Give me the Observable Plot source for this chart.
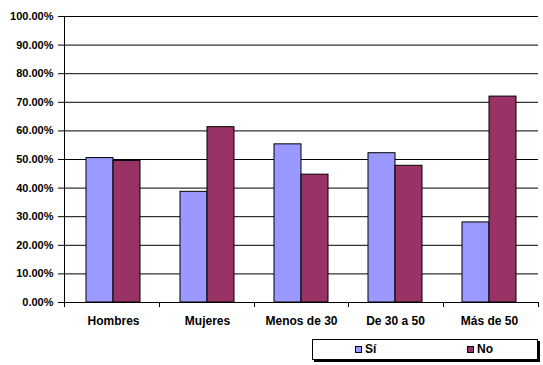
<!DOCTYPE html>
<html>
<head>
<meta charset="utf-8">
<script src="https://cdn.jsdelivr.net/npm/d3@7"></script>
<script src="https://cdn.jsdelivr.net/npm/@observablehq/plot@0.6"></script>
<style>
  html, body { margin: 0; padding: 0; background: #fff; }
  body { width: 543px; height: 365px; position: relative; overflow: hidden; font-family: "Liberation Sans", Arial, sans-serif; }
  #legend { position: absolute; left: 312px; top: 339px; width: 224px; height: 19px; border: 1px solid #000; background: #fff; box-shadow: 2px 2px 0 #000; font-weight: bold; font-size: 12px; }
  .item { position: absolute; top: 0; height: 19px; line-height: 19px; }
  .sw { display: inline-block; width: 5px; height: 5px; border: 1px solid #000; margin-right: 3px; vertical-align: 0px; }
</style>
</head>
<body>
<div id="chart"></div>
<div id="legend"></div>
<script>
const categories = ["Hombres", "Mujeres", "Menos de 30", "De 30 a 50", "Más de 50"];
const series = ["Sí", "No"];
const valuesSi = [0.505, 0.387, 0.553, 0.522, 0.280];
const valuesNo = [0.495, 0.613, 0.447, 0.478, 0.720];
const yTicks = [0, 0.1, 0.2, 0.3, 0.4, 0.5, 0.6, 0.7, 0.8, 0.9, 1.0];
const colors = ["#9999FF", "#993366"];

const dataSi = categories.map((c, i) => ({category: c, value: valuesSi[i]}));
const dataNo = categories.map((c, i) => ({category: c, value: valuesNo[i]}));

const W = 543, H = 330, mL = 64, mR = 5, mT = 16, mB = 28;

const boundaryTicks = (index, scales, values, dimensions) => {
  const g = d3.create("svg:g");
  const {width, height, marginLeft, marginRight, marginBottom, marginTop} = dimensions;
  const n = categories.length;
  const w = (width - marginLeft - marginRight) / n;
  const yb = height - marginBottom;
  for (let i = 0; i <= n; i++) {
    const x = Math.round(marginLeft + i * w) + 0.5;
    g.append("line").attr("x1", x).attr("x2", x).attr("y1", yb).attr("y2", yb + 5).attr("stroke", "#000");
  }
  const xl = marginLeft + 0.5;
  g.append("line").attr("x1", xl).attr("x2", xl).attr("y1", marginTop).attr("y2", yb).attr("stroke", "#000");
  return g.node();
};

const chart = Plot.plot({
  width: W,
  height: H,
  marginLeft: mL,
  marginRight: mR,
  marginTop: mT,
  marginBottom: mB,
  style: {fontFamily: "'Liberation Sans', Arial, sans-serif", color: "#000", background: "#fff"},
  x: {domain: categories, paddingInner: 0.43, paddingOuter: 0.215, axis: null},
  y: {domain: [0, 1], axis: null},
  marks: [
    Plot.gridY(yTicks, {stroke: "#000", strokeOpacity: 1}),
    Plot.barY(dataSi, {x: "category", y: "value", fill: colors[0], stroke: "#000", strokeWidth: 1, insetRight: 27}),
    Plot.barY(dataNo, {x: "category", y: "value", fill: colors[1], stroke: "#000", strokeWidth: 1, insetLeft: 27}),
    Plot.ruleY([0], {stroke: "#000"}),
    Plot.axisY({ticks: yTicks, tickFormat: d3.format(".2%"), tickSize: 6, tickPadding: 5, fontSize: 11, fontWeight: "bold", label: null}),
    Plot.axisX({tickSize: 0, tickPadding: 14, fontSize: 12, fontWeight: "bold", label: null}),
    boundaryTicks
  ]
});
document.getElementById("chart").appendChild(chart);

const legend = document.getElementById("legend");
const lefts = [42, 154];
series.forEach((s, i) => {
  const it = document.createElement("div");
  it.className = "item";
  it.style.left = lefts[i] + "px";
  const sw = document.createElement("span");
  sw.className = "sw";
  sw.style.background = colors[i];
  it.appendChild(sw);
  it.appendChild(document.createTextNode(s));
  legend.appendChild(it);
});
</script>
</body>
</html>
